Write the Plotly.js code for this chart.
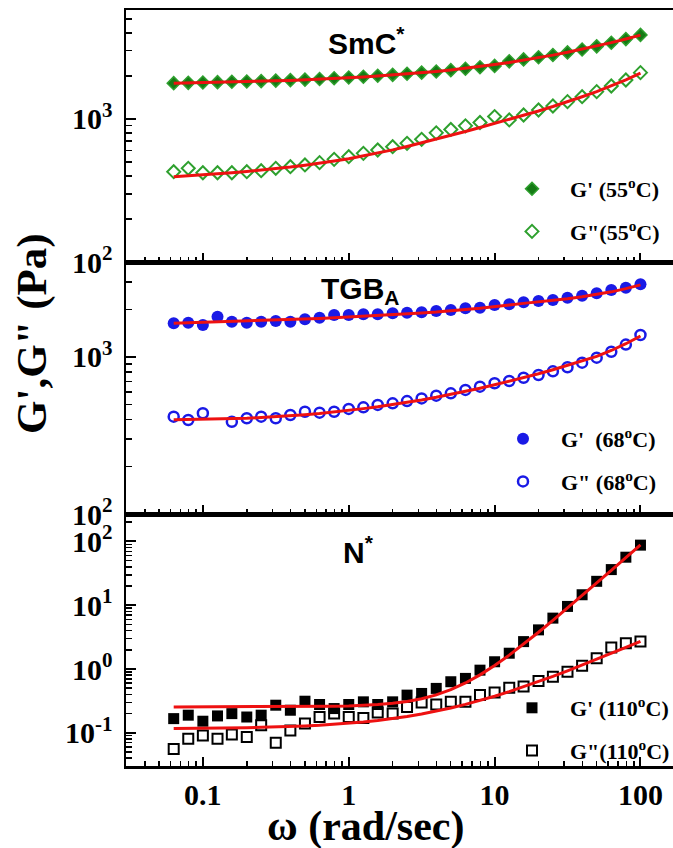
<!DOCTYPE html>
<html>
<head>
<meta charset="utf-8">
<script src="https://cdn.plot.ly/plotly-3.0.1.min.js"></script>
<style>html,body{margin:0;padding:0;background:#fff;overflow:hidden;width:673px;height:848px;}</style>
</head>
<body>
<div id="chart" style="width:700px;height:848px;"></div>
<script>
// angular frequency (rad/s)
const omega = [0.0631, 0.0794, 0.1, 0.126, 0.158, 0.2, 0.251, 0.316, 0.398, 0.501, 0.631, 0.794, 1, 1.26, 1.58, 2, 2.51, 3.16, 3.98, 5.01, 6.31, 7.94, 10, 12.6, 15.8, 20, 25.1, 31.6, 39.8, 50.1, 63.1, 79.4, 100];

// SmC* (55 C)
const gp55  = [1780, 1790, 1800, 1810, 1820, 1830, 1840, 1855, 1870, 1885, 1905, 1925, 1950, 1975, 2005, 2035, 2070, 2110, 2150, 2195, 2245, 2300, 2350, 2530, 2610, 2700, 2800, 2920, 3060, 3220, 3410, 3620, 3870];
const gpp55 = [428, 452, 421, 421, 421, 428, 435, 452, 464, 477, 495, 522, 545, 575, 607, 640, 676, 721, 800, 845, 895, 945, 1040, 985, 1066, 1156, 1233, 1322, 1432, 1553, 1701, 1874, 2108];
const fitGp55  = [1780, 1787, 1794, 1803, 1812, 1822, 1834, 1847, 1861, 1878, 1896, 1917, 1940, 1966, 1995, 2028, 2065, 2106, 2152, 2204, 2262, 2327, 2401, 2483, 2575, 2678, 2795, 2925, 3071, 3235, 3419, 3625, 3857];
const fitGpp55 = [395, 400, 406, 413, 420, 429, 438, 449, 461, 475, 490, 508, 528, 552, 578, 608, 642, 680, 722, 768, 818, 872, 930, 993, 1062, 1138, 1222, 1315, 1430, 1555, 1700, 1880, 2090];

// TGB_A (68 C)
const gp68  = [1639, 1654, 1599, 1806, 1679, 1654, 1679, 1696, 1679, 1738, 1780, 1851, 1851, 1870, 1870, 1898, 1916, 1926, 1963, 1992, 2042, 2062, 2144, 2165, 2230, 2274, 2307, 2387, 2459, 2543, 2672, 2764, 2903];
const gpp68 = [417, 397, 438, null, 387, 407, 417, 407, 427, 448, 442, 448, 467, 478, 495, 507, 524, 545, 567, 587, 617, 647, 680, 703, 738, 768, 810, 860, 920, 990, 1080, 1200, 1380];
const fitGp68  = [1640, 1650, 1660, 1670, 1680, 1691, 1703, 1716, 1730, 1745, 1761, 1778, 1796, 1815, 1836, 1858, 1882, 1907, 1934, 1963, 2010, 2045, 2085, 2140, 2195, 2245, 2290, 2350, 2420, 2500, 2600, 2725, 2880];
const fitGpp68 = [398, 399, 400, 402, 404, 407, 411, 416, 422, 429, 437, 446, 457, 469, 482, 497, 514, 533, 554, 578, 604, 633, 665, 700, 739, 782, 830, 883, 942, 1008, 1100, 1215, 1360];

// N* (110 C)
const gp110  = [0.167, 0.189, 0.152, 0.184, 0.200, 0.177, 0.189, 0.271, 0.226, 0.313, 0.278, 0.240, 0.278, 0.306, 0.278, 0.306, 0.390, 0.414, 0.497, 0.632, 0.713, 0.96, 1.30, 1.77, 2.69, 4.11, 6.28, 9.58, 14.6, 23.7, 36.2, 56.6, 87.5];
const gpp110 = [0.056, 0.081, 0.091, 0.081, 0.094, 0.086, 0.131, 0.070, 0.109, 0.140, 0.177, 0.200, 0.177, 0.171, 0.208, 0.200, 0.255, 0.299, 0.278, 0.306, 0.306, 0.390, 0.430, 0.508, 0.53, 0.647, 0.757, 0.908, 1.13, 1.47, 2.17, 2.54, 2.69];
const fitGp110  = [0.255, 0.255, 0.255, 0.255, 0.255, 0.255, 0.256, 0.256, 0.256, 0.257, 0.259, 0.261, 0.264, 0.269, 0.277, 0.290, 0.310, 0.343, 0.394, 0.476, 0.605, 0.81, 1.135, 1.65, 2.45, 3.77, 5.8, 9.04, 14.2, 22.3, 35.3, 55.7, 88.3];
const fitGpp110 = [0.117, 0.117, 0.118, 0.118, 0.119, 0.120, 0.122, 0.123, 0.125, 0.128, 0.131, 0.136, 0.141, 0.148, 0.156, 0.167, 0.180, 0.197, 0.218, 0.245, 0.279, 0.321, 0.375, 0.443, 0.527, 0.635, 0.768, 0.937, 1.15, 1.42, 1.76, 2.18, 2.72];

// tick labels
const xTickVals = [0.1, 1, 10, 100];
const yTickValsTop = [100, 1000];
const yTickTextTop = ['10<sup>2</sup>', '10<sup>3</sup>'];
const yTickValsBot = [0.1, 1, 10, 100];
const yTickTextBot = ['10<sup>-1</sup>', '10<sup>0</sup>', '10<sup>1</sup>', '10<sup>2</sup>'];

// panel labels and legend names
const panelTitles = ['SmC<sup>*</sup>', 'TGB<sub>A</sub>', 'N<sup>*</sup>'];
const names55 = ["G' (55<sup>o</sup>C)", 'G"(55<sup>o</sup>C)'];
const names68 = ["G'  (68<sup>o</sup>C)", 'G" (68<sup>o</sup>C)'];
const names110 = ["G' (110<sup>o</sup>C)", 'G"(110<sup>o</sup>C)'];

const FIT = '#ee1111';
const GREEN_F = '#157a15', GREEN_L = '#2ea02e';
const BLUE = '#1a1ae6';

function fitLine(y, xa, ya) {
  return {x: omega, y: y, xaxis: xa, yaxis: ya, mode: 'lines', line: {color: FIT, width: 3}, showlegend: false, hoverinfo: 'skip'};
}

const traces = [
  {x: omega, y: gp55, xaxis: 'x3', yaxis: 'y', mode: 'markers', name: names55[0], legend: 'legend', legendgroup: 'a',
   marker: {symbol: 'diamond', size: 10, color: GREEN_F, line: {color: GREEN_L, width: 1.5}}},
  {x: omega, y: gpp55, xaxis: 'x3', yaxis: 'y', mode: 'markers', name: names55[1], legend: 'legend', legendgroup: 'b',
   marker: {symbol: 'diamond-open', size: 10, color: GREEN_L, line: {color: GREEN_L, width: 2}}},
  fitLine(fitGp55, 'x3', 'y'), fitLine(fitGpp55, 'x3', 'y'),

  {x: omega, y: gp68, xaxis: 'x2', yaxis: 'y2', mode: 'markers', name: names68[0], legend: 'legend2', legendgroup: 'c',
   marker: {symbol: 'circle', size: 12, color: BLUE, line: {color: BLUE, width: 0}}},
  {x: omega, y: gpp68, xaxis: 'x2', yaxis: 'y2', mode: 'markers', name: names68[1], legend: 'legend2', legendgroup: 'd',
   marker: {symbol: 'circle-open', size: 10, color: BLUE, line: {color: BLUE, width: 2.5}}},
  fitLine(fitGp68, 'x2', 'y2'), fitLine(fitGpp68, 'x2', 'y2'),

  {x: omega, y: gp110, xaxis: 'x', yaxis: 'y3', mode: 'markers', name: names110[0], legend: 'legend3', legendgroup: 'e',
   marker: {symbol: 'square', size: 11, color: '#000', line: {color: '#000', width: 0}}},
  {x: omega, y: gpp110, xaxis: 'x', yaxis: 'y3', mode: 'markers', name: names110[1], legend: 'legend3', legendgroup: 'f',
   marker: {symbol: 'square-open', size: 10, color: '#000', line: {color: '#000', width: 2}}},
  fitLine(fitGp110, 'x', 'y3'), fitLine(fitGpp110, 'x', 'y3')
];

const FIG_W = 700;
const L = 126, R = 673, T = 10, B = 766;
const W = R - L, H = B - T;
const px = v => (v - L) / W;
const py = v => (B - v) / H;

const serifBold = {family: 'Liberation Serif, Times New Roman, serif', size: 30, color: '#000', weight: 'bold'};

function xAxis(anchor, labels) {
  return {
    type: 'log', range: [-1.527, 2.223], anchor: anchor, domain: [0, 1],
    showline: true, linewidth: 2.5, linecolor: '#000', mirror: true,
    ticks: 'inside', ticklen: 9, tickwidth: 2, tickcolor: '#000',
    tickmode: 'array', tickvals: xTickVals,
    minor: {ticks: 'inside', ticklen: 5, tickwidth: 1.5, tickcolor: '#000', tickmode: 'linear', dtick: 'D1', showgrid: false},
    showticklabels: labels, tickfont: serifBold, ticklabelstandoff: 0,
    showgrid: false, zeroline: false
  };
}
function yAxis(anchor, dom, range, tv, tt) {
  return {
    type: 'log', range: range, anchor: anchor, domain: dom,
    showline: true, linewidth: 2.5, linecolor: '#000', mirror: false,
    ticks: 'inside', ticklen: 10, tickwidth: 2, tickcolor: '#000',
    tickmode: 'array', tickvals: tv, ticktext: tt,
    minor: {ticks: 'inside', ticklen: 6, tickwidth: 1.5, tickcolor: '#000', tickmode: 'linear', dtick: 'D1', showgrid: false},
    tickfont: serifBold, ticklabelstandoff: 5,
    showgrid: false, zeroline: false
  };
}

const legFont = {family: 'Liberation Serif, Times New Roman, serif', size: 22, color: '#000', weight: 'bold'};
function legend(mx, my) {
  return {x: px(mx - 38), y: py(my - 20), xanchor: 'left', yanchor: 'top', xref: 'paper', yref: 'paper',
          bgcolor: 'rgba(0,0,0,0)', borderwidth: 0, font: legFont, itemwidth: 66, tracegroupgap: 11, itemclick: false};
}

const titleFont = {family: 'Liberation Sans, Arial, sans-serif', size: 30, color: '#000', weight: 'bold'};

const layout = {
  width: FIG_W, height: 848,
  margin: {l: L, r: FIG_W - R, t: T, b: 848 - B, pad: 0},
  paper_bgcolor: '#fff', plot_bgcolor: '#fff',
  showlegend: true,
  xaxis: xAxis('y3', true),
  xaxis2: xAxis('y2', false),
  xaxis3: xAxis('y', false),
  yaxis: yAxis('x3', [2/3, 1], [2, 3.762], yTickValsTop, yTickTextTop),
  yaxis2: yAxis('x2', [1/3, 2/3], [2, 3.605], yTickValsTop, yTickTextTop),
  yaxis3: yAxis('x', [0, 1/3], [-1.52, 2.43], yTickValsBot, yTickTextBot),
  legend: legend(532, 188),
  legend2: legend(523, 438),
  legend3: legend(532, 707),
  annotations: [
    {text: panelTitles[0], x: px(366), y: py(41), xref: 'paper', yref: 'paper', showarrow: false, xanchor: 'center', yanchor: 'middle', font: titleFont},
    {text: panelTitles[1], x: px(360), y: py(290), xref: 'paper', yref: 'paper', showarrow: false, xanchor: 'center', yanchor: 'middle', font: titleFont},
    {text: panelTitles[2], x: px(358), y: py(550), xref: 'paper', yref: 'paper', showarrow: false, xanchor: 'center', yanchor: 'middle', font: titleFont},
    {text: 'G\',G" (Pa)', x: px(32), y: py(334), xref: 'paper', yref: 'paper', showarrow: false, textangle: -90, xanchor: 'center', yanchor: 'middle',
     font: {family: 'Liberation Serif, Times New Roman, serif', size: 43, color: '#000', weight: 'bold'}},
    {text: 'ω (rad/sec)', x: px(365), y: py(826), xref: 'paper', yref: 'paper', showarrow: false, xanchor: 'center', yanchor: 'middle',
     font: {family: 'Liberation Serif, Times New Roman, serif', size: 42, color: '#000', weight: 'bold'}}
  ]
};

Plotly.newPlot('chart', traces, layout, {staticPlot: true, displayModeBar: false});
</script>
</body>
</html>
